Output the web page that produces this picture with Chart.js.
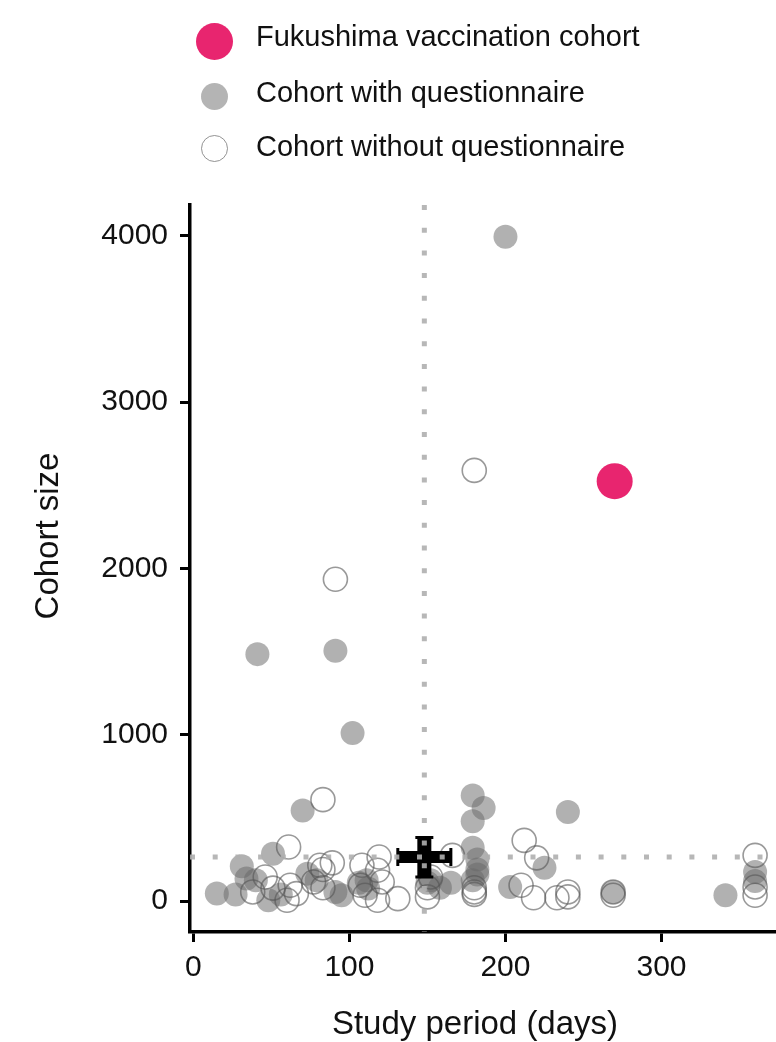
<!DOCTYPE html>
<html>
<head>
<meta charset="utf-8">
<script src="https://cdn.jsdelivr.net/npm/chart.js@4"></script>
<style>
  html, body { margin: 0; padding: 0; background: #fff; }
  #wrap { position: relative; width: 776px; height: 1042px; overflow: hidden; }
  #chart { position: absolute; left: 0; top: 0; }
  .legend-mark { position: absolute; border-radius: 50%; box-sizing: border-box; }
  .legend-text { position: absolute; left: 256px; white-space: nowrap;
    font-family: "Liberation Sans", Arial, Helvetica, sans-serif; font-size: 29px; line-height: 29px; color: #111; }
</style>
</head>
<body>
<div id="wrap">
  <canvas id="chart" width="776" height="1042"></canvas>
  <div id="legend"></div>
</div>
<script>
// Study period (days) and cohort size for each cohort
const fukushimaDays = [270];
const fukushimaSize = [2525];

const withQDays = [200, 41, 91, 102, 70, 179, 186, 179, 240, 225, 203, 269, 341, 360, 360,
  179, 182, 182, 182, 179, 165, 152, 158,
  51, 31, 15, 27, 34, 40, 48, 56, 73, 79, 91, 95, 111, 112, 150, 106];
const withQSize = [3995, 1485, 1505, 1010, 545, 635, 560, 480, 535, 200, 85, 55, 35, 175, 120,
  320, 250, 190, 160, 125, 110, 125, 80,
  285, 210, 45, 40, 135, 125, 5, 40, 165, 125, 55, 35, 125, 75, 110, 110];

const withoutQDays = [180, 91, 83, 212, 220, 210, 218, 233, 240, 240, 269, 269, 360, 360, 360,
  166, 180, 180, 180, 61, 46, 38, 62, 60, 66, 83, 89, 83, 81, 77, 108, 107,
  119, 118, 121, 110, 118, 131, 150, 150, 152, 51];
const withoutQSize = [2590, 1935, 610, 365, 260, 95, 20, 20, 55, 25, 55, 35, 275, 85, 35,
  275, 80, 55, 40, 325, 145, 55, 95, 5, 45, 190, 230, 80, 215, 115, 215, 95,
  265, 185, 115, 35, 5, 15, 80, 25, 145, 78];

// Pooled summary: mean with spread, drawn as a cross
const meanDays = 148;
const meanSize = 265;
const daysRange = [131, 165];
const sizeRange = [145, 382];

// Axis ticks
const xTicks = [0, 100, 200, 300];
const yTicks = [0, 1000, 2000, 3000, 4000];

const xLabel = 'Study period (days)';
const yLabel = 'Cohort size';

const FONT = '"Liberation Sans", Arial, Helvetica, sans-serif';
const toPoints = (xs, ys) => xs.map((x, i) => ({ x, y: ys[i] }));

// Mean cross and dotted reference lines through the means
const summaryPlugin = {
  id: 'summaryCross',
  afterDatasetsDraw(chart) {
    const { ctx, chartArea: a, scales: { x, y } } = chart;
    const cx = x.getPixelForValue(meanDays);
    const cy = y.getPixelForValue(meanSize);
    ctx.save();
    ctx.fillStyle = '#000';
    ctx.strokeStyle = '#000';
    // horizontal bar with end caps
    const x0 = x.getPixelForValue(daysRange[0]);
    const x1 = x.getPixelForValue(daysRange[1]);
    ctx.fillRect(x0, cy - 6, x1 - x0, 12);
    ctx.lineWidth = 3;
    ctx.beginPath();
    ctx.moveTo(x0, cy - 9); ctx.lineTo(x0, cy + 9);
    ctx.moveTo(x1, cy - 9); ctx.lineTo(x1, cy + 9);
    ctx.stroke();
    // vertical bar with end caps
    const y0 = y.getPixelForValue(sizeRange[1]);
    const y1 = y.getPixelForValue(sizeRange[0]);
    ctx.fillRect(cx - 7, y0, 14, y1 - y0);
    ctx.beginPath();
    ctx.moveTo(cx - 9, y0); ctx.lineTo(cx + 9, y0);
    ctx.moveTo(cx - 9, y1); ctx.lineTo(cx + 9, y1);
    ctx.stroke();
    // dotted lines
    ctx.strokeStyle = 'rgba(175,175,175,0.9)';
    ctx.lineWidth = 5;
    ctx.setLineDash([5, 17.7]);
    ctx.beginPath();
    ctx.moveTo(a.left, cy); ctx.lineTo(a.right, cy);
    ctx.stroke();
    ctx.beginPath();
    ctx.moveTo(cx, a.top); ctx.lineTo(cx, a.bottom);
    ctx.stroke();
    ctx.restore();
  }
};

// Axis titles
const titlesPlugin = {
  id: 'axisTitles',
  afterDraw(chart) {
    const { ctx } = chart;
    ctx.save();
    ctx.fillStyle = '#111';
    ctx.font = '33px ' + FONT;
    ctx.textAlign = 'center';
    ctx.textBaseline = 'alphabetic';
    ctx.fillText(xLabel, 475, 1034);
    ctx.translate(58, 536);
    ctx.rotate(-Math.PI / 2);
    ctx.fillText(yLabel, 0, 0);
    ctx.restore();
  }
};

const axisCommon = {
  type: 'linear',
  border: { display: true, color: '#000', width: 3.5 },
  grid: { drawOnChartArea: false, drawTicks: true, tickLength: 10, tickWidth: 3, tickColor: '#000', color: '#000' },
  title: { display: false }
};

const chart = new Chart(document.getElementById('chart'), {
  type: 'scatter',
  data: {
    datasets: [
      {
        label: 'Fukushima vaccination cohort',
        data: toPoints(fukushimaDays, fukushimaSize),
        pointRadius: 18, pointHoverRadius: 18,
        backgroundColor: '#E8256F', borderColor: '#E8256F', borderWidth: 0,
        order: 0
      },
      {
        label: 'Cohort with questionnaire',
        data: toPoints(withQDays, withQSize),
        pointRadius: 12, pointHoverRadius: 12,
        backgroundColor: 'rgba(105,105,105,0.52)', borderColor: 'rgba(105,105,105,0)', borderWidth: 0,
        order: 2
      },
      {
        label: 'Cohort without questionnaire',
        data: toPoints(withoutQDays, withoutQSize),
        pointRadius: 12, pointHoverRadius: 12,
        backgroundColor: 'rgba(0,0,0,0)', borderColor: 'rgba(85,85,85,0.6)', borderWidth: 1.6,
        order: 1
      }
    ]
  },
  options: {
    responsive: false,
    animation: false,
    events: [],
    layout: { padding: { top: 205, right: 0, bottom: 0, left: 0 }, autoPadding: false },
    plugins: { legend: { display: false }, tooltip: { enabled: false } },
    scales: {
      x: {
        ...axisCommon,
        position: 'bottom',
        min: -2.2, max: 373.4,
        afterBuildTicks: s => { s.ticks = xTicks.map(v => ({ value: v })); },
        afterFit: s => { s.height = 110; },
        ticks: { color: '#111', padding: 8, font: { family: FONT, size: 30 }, maxRotation: 0,
                 callback: v => String(v) }
      },
      y: {
        ...axisCommon,
        position: 'left',
        min: -186, max: 4186,
        afterBuildTicks: s => { s.ticks = yTicks.map(v => ({ value: v })); },
        afterFit: s => { s.width = 190; },
        ticks: { color: '#111', padding: 12, font: { family: FONT, size: 30 },
                 callback: v => String(v) }
      }
    }
  },
  plugins: [summaryPlugin, titlesPlugin]
});

// Legend built from the datasets' own styles
const legendRows = [
  { baseline: 46, cy: 41 },
  { baseline: 102, cy: 96 },
  { baseline: 156, cy: 148 }
];
const legendEl = document.getElementById('legend');
chart.data.datasets.forEach((ds, i) => {
  const row = legendRows[i];
  const d = ds.pointRadius * 2 + (i === 0 ? 1 : 3);
  const mark = document.createElement('div');
  mark.className = 'legend-mark';
  mark.style.width = d + 'px';
  mark.style.height = d + 'px';
  mark.style.left = (214 - d / 2) + 'px';
  mark.style.top = (row.cy - d / 2) + 'px';
  if (ds.borderWidth > 0 && ds.backgroundColor === 'rgba(0,0,0,0)') {
    mark.style.border = '1.6px solid rgba(120,120,120,0.8)';
  } else {
    mark.style.background = i === 1 ? 'rgba(105,105,105,0.5)' : ds.backgroundColor;
  }
  const text = document.createElement('div');
  text.className = 'legend-text';
  text.textContent = ds.label;
  text.style.top = (row.baseline - 24.5) + 'px';
  legendEl.appendChild(mark);
  legendEl.appendChild(text);
});
</script>
</body>
</html>
